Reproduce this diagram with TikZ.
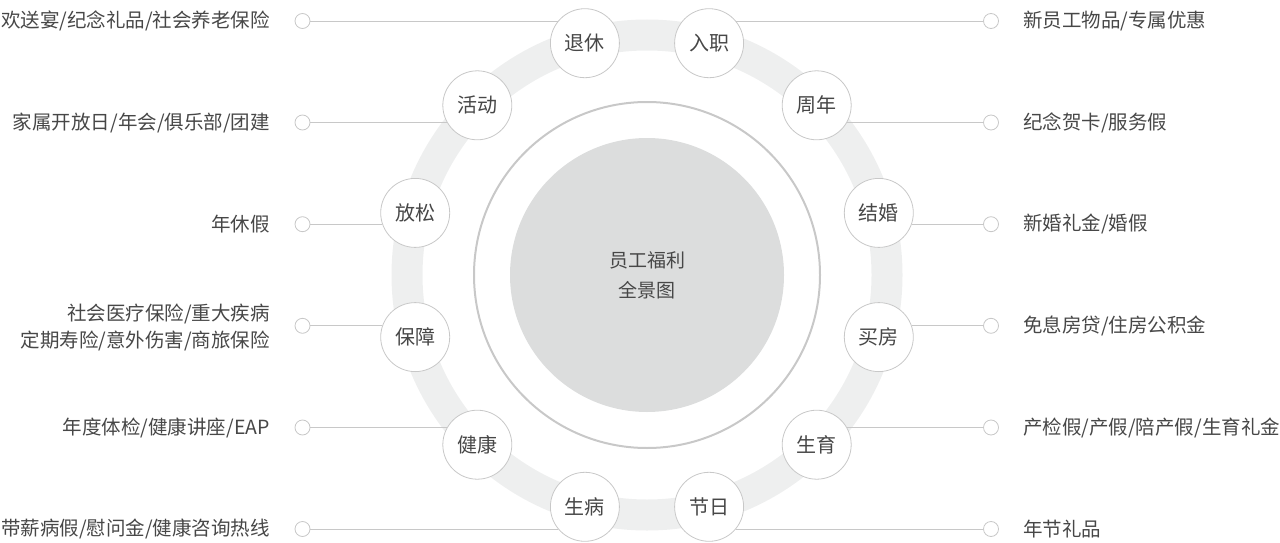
\documentclass[tikz,border=0pt]{standalone}
\usepackage{fontspec}
\setmainfont{Noto Sans CJK SC}
\definecolor{ringc}{HTML}{EEEFEF}
\definecolor{fillc}{HTML}{DCDDDD}
\definecolor{linec}{HTML}{C8C8C8}
\definecolor{txtc}{HTML}{474747}
\begin{document}
\begin{tikzpicture}[x=1pt,y=-1pt,
  item/.style={circle, draw=linec, line width=0.8pt, fill=white, minimum size=69pt, inner sep=0pt, font=\fontsize{20}{24}\selectfont, text=txtc},
  dot/.style={circle, draw=linec, line width=0.8pt, fill=white, minimum size=15pt, inner sep=0pt},
  lbl/.style={font=\fontsize{19.5}{27}\selectfont, text=txtc, inner sep=0pt},
  conn/.style={draw=linec, line width=0.8pt}]
\useasboundingbox (0,0) rectangle (1280,543);
\coordinate (C) at (647,275);
% ring and hub
\draw[ringc, line width=31pt] (C) circle[radius=240pt];
\draw[linec, line width=2pt] (C) circle[radius=173pt];
\node[circle, fill=fillc, minimum size=274pt, inner sep=0pt, align=center,
      font=\fontsize{19}{30}\selectfont, text=txtc] (hub) at (C) {员工福利\\全景图};
% items
\node[item] (n1) at (584.9,43.2) {退休};
\node[item] (n2) at (477.3,105.3) {活动};
\node[item] (n3) at (415.2,212.9) {放松};
\node[item] (n4) at (415.2,337.1) {保障};
\node[item] (n5) at (477.3,444.7) {健康};
\node[item] (n6) at (584.9,506.8) {生病};
\node[item] (m1) at (709.1,43.2) {入职};
\node[item] (m2) at (816.7,105.3) {周年};
\node[item] (m3) at (878.8,212.9) {结婚};
\node[item] (m4) at (878.8,337.1) {买房};
\node[item] (m5) at (816.7,444.7) {生育};
\node[item] (m6) at (709.1,506.8) {节日};
% dots
\node[dot] (l1) at (302.5,21) {};
\node[dot] (l2) at (302.5,122.5) {};
\node[dot] (l3) at (302.5,224.2) {};
\node[dot] (l4) at (302.5,325.8) {};
\node[dot] (l5) at (302.5,427.5) {};
\node[dot] (l6) at (302.5,529) {};
\node[dot] (r1) at (991,21) {};
\node[dot] (r2) at (991,122.5) {};
\node[dot] (r3) at (991,224.2) {};
\node[dot] (r4) at (991,325.8) {};
\node[dot] (r5) at (991,427.5) {};
\node[dot] (r6) at (991,529) {};
% connectors
\draw[conn] (l1.east) -- (l1 -| n1.140.6);
\draw[conn] (l2.east) -- (l2 -| n2.209.4);
\draw[conn] (l3.east) -- (l3 -| n3.198.8);
\draw[conn] (l4.east) -- (l4 -| n4.161.2);
\draw[conn] (l5.east) -- (l5 -| n5.150.6);
\draw[conn] (l6.east) -- (l6 -| n6.219.4);
\draw[conn] (r1.west) -- (r1 -| m1.39.4);
\draw[conn] (r2.west) -- (r2 -| m2.-29.4);
\draw[conn] (r3.west) -- (r3 -| m3.-18.8);
\draw[conn] (r4.west) -- (r4 -| m4.18.8);
\draw[conn] (r5.west) -- (r5 -| m5.29.4);
\draw[conn] (r6.west) -- (r6 -| m6.-39.4);
% labels
\node[lbl, anchor=east] (t1) at (270,21) {欢送宴/纪念礼品/社会养老保险};
\node[lbl, anchor=east] (t2) at (270,122.5) {家属开放日/年会/俱乐部/团建};
\node[lbl, anchor=east] (t3) at (270,224.2) {年休假};
\node[lbl, anchor=east, align=right] (t4) at (270,327.5) {社会医疗保险/重大疾病\\定期寿险/意外伤害/商旅保险};
\node[lbl, anchor=east] (t5) at (270,427.5) {年度体检/健康讲座/EAP};
\node[lbl, anchor=east] (t6) at (270,529) {带薪病假/慰问金/健康咨询热线};
\node[lbl, anchor=west] (s1) at (1023,21) {新员工物品/专属优惠};
\node[lbl, anchor=west] (s2) at (1023,122.5) {纪念贺卡/服务假};
\node[lbl, anchor=west] (s3) at (1023,224.2) {新婚礼金/婚假};
\node[lbl, anchor=west] (s4) at (1023,325.8) {免息房贷/住房公积金};
\node[lbl, anchor=west] (s5) at (1023,427.5) {产检假/产假/陪产假/生育礼金};
\node[lbl, anchor=west] (s6) at (1023,529) {年节礼品};
\end{tikzpicture}
\end{document}
